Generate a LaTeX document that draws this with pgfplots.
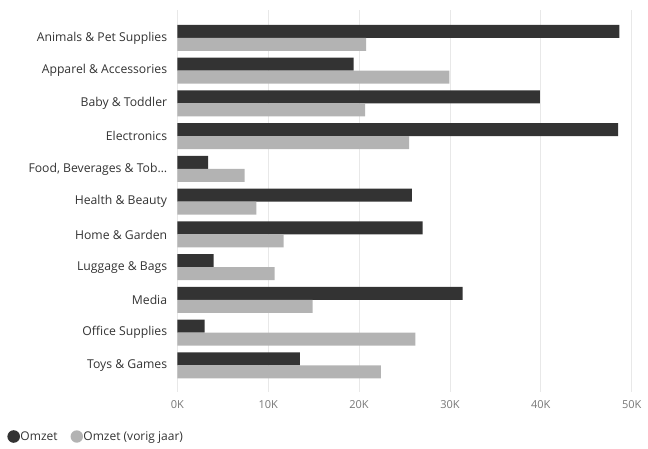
\documentclass[border=0pt]{standalone}
\usepackage{pgfplots}
\pgfplotsset{compat=1.18}
\usepackage{fontspec}
\setmainfont{Open Sans}
\definecolor{dark}{HTML}{333333}
\definecolor{light}{HTML}{B3B3B3}
\definecolor{gridc}{HTML}{E8E8E8}
\definecolor{labc}{HTML}{333333}
\definecolor{tickc}{HTML}{777777}
\begin{document}
\begin{tikzpicture}[x=1pt,y=1pt]
\useasboundingbox (-177.3,-56) rectangle (470.7,392);
\begin{axis}[
  at={(0,0)}, anchor=south west,
  scale only axis, width=454.4pt, height=382pt,
  xbar, bar width=13pt,
  xmin=0, xmax=50000,
  ymin=-0.854, ymax=10.81, y dir=reverse,
  scaled x ticks=false,
  ytick={0,1,2,3,4,5,6,7,8,9,10},
  yticklabels={Animals \& Pet Supplies, Apparel \& Accessories, Baby \& Toddler, Electronics, {Food, Beverages \& Tob…}, Health \& Beauty, Home \& Garden, Luggage \& Bags, Media, Office Supplies, Toys \& Games},
  xtick={0,10000,20000,30000,40000,50000},
  xticklabels={0K,10K,20K,30K,40K,50K},
  axis line style={draw=none},
  major tick length=0pt,
  xmajorgrids, major grid style={gridc, line width=0.8pt},
  yticklabel style={font=\fontsize{12.2}{14}\selectfont, text=labc, anchor=east, inner sep=0pt, xshift=-10pt},
  xticklabel style={font=\fontsize{11}{13}\selectfont, text=tickc, anchor=north, inner sep=0pt, yshift=-8pt},
  legend style={at={(axis description cs:0,0)}, anchor=west, xshift=-169.9pt, yshift=-44.5pt,
    draw=none, fill=none, legend columns=2,
    font=\fontsize{12}{14}\selectfont, text=labc, inner sep=0pt, outer sep=0pt,
    /tikz/every odd column/.append style={column sep=-1.5pt},
    /tikz/every even column/.append style={column sep=11pt}},
  legend cell align=left,
]
\addplot[draw=none, fill=dark, bar shift=6.5pt,
  legend image code/.code={\fill[dark] (0pt,0pt) circle (6.3pt);}]
  coordinates {(48650,0) (19400,1) (39900,2) (48500,3) (3400,4) (25800,5) (27000,6) (4000,7) (31400,8) (3000,9) (13500,10)};
\addplot[draw=none, fill=light, bar shift=-6.5pt,
  legend image code/.code={\fill[light] (0pt,0pt) circle (6.2pt);}]
  coordinates {(20770,0) (29940,1) (20660,2) (25500,3) (7400,4) (8700,5) (11700,6) (10700,7) (14900,8) (26200,9) (22400,10)};
\legend{Omzet, Omzet (vorig jaar)}
\end{axis}
\end{tikzpicture}
\end{document}
